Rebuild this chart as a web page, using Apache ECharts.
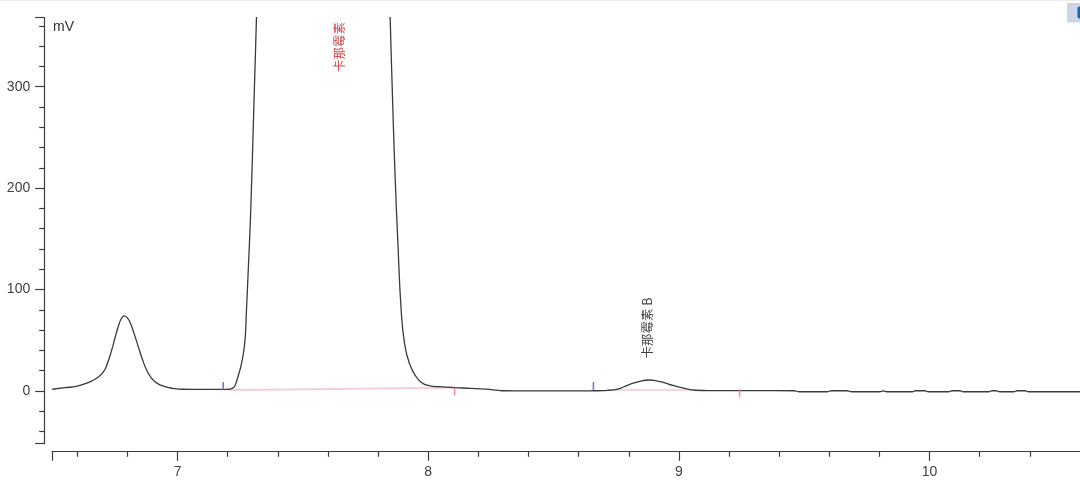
<!DOCTYPE html>
<html>
<head>
<meta charset="utf-8">
<script src="https://cdn.jsdelivr.net/npm/echarts@6/dist/echarts.min.js"></script>
<style>
html,body{margin:0;padding:0;background:#fff;}
#chart{width:1080px;height:481px;}
</style>
</head>
<body>
<div id="chart"></div>
<script>
// ---- data ----
const signal = [
  [6.50,1.7],[6.55,3.2],[6.60,4.8],[6.65,9.0],[6.68,13],[6.705,19],[6.72,27],[6.737,40],
  [6.75,52],[6.763,63],[6.775,71],[6.787,74],[6.798,72.5],[6.81,68],[6.826,57],[6.843,44],
  [6.86,31],[6.876,21],[6.895,13],[6.916,8],[6.95,4.2],[6.982,2.6],[7.02,1.7],[7.10,1.5],
  [7.18,1.5],[7.208,1.7],[7.219,2.8],[7.228,4.6],[7.241,14],[7.255,27],[7.268,47],
  [7.275,80],[7.281,113],[7.292,178],[7.304,277],[7.315,369],[7.33,500],[7.40,1100],
  [7.55,1500],[7.70,1300],[7.80,750],[7.83,520],[7.848,369],[7.859,277],[7.868,211],
  [7.879,146],[7.892,80],[7.9055,47],[7.925,27],[7.952,14],[7.975,8],[7.992,5.9],
  [8.02,4.6],[8.058,4.0],[8.105,3.3],[8.17,2.6],[8.23,1.8],[8.28,0.6],
  [8.30,0.2],[8.40,0],[8.50,0],[8.60,0],[8.70,0.4],[8.718,0.7],[8.752,1.6],[8.80,6.1],
  [8.84,9.2],[8.882,10.8],[8.91,10.0],[8.937,8.5],[8.98,5.2],[9.019,2.8],[9.067,0.7],
  [9.12,0.3],[9.24,0.3],[9.30,0.3],[9.46,0.2],[9.48,-0.8],[9.59,-0.8],[9.61,0.2],
  [9.67,0.2],[9.69,-0.8],[9.80,-0.8],[9.815,0],[9.83,-0.8],[9.93,-0.8],[9.945,0.2],
  [9.98,0.2],[9.995,-0.8],[10.075,-0.8],[10.09,0.2],[10.12,0.2],[10.135,-0.8],
  [10.235,-0.8],[10.25,0.2],[10.265,0.2],[10.28,-0.8],[10.335,-0.8],[10.35,0.2],
  [10.38,0.2],[10.395,-0.8],[10.60,-0.8]
];
const baseline1 = [[7.208,0.8],[8.105,3.3]];
const baseline2 = [[8.718,0.9],[9.067,0.9]];
const peakStarts = [[7.182,1],[8.659,1]];
const peakEnds = [[8.105,3.3],[9.242,1.7]];
const peakNames = ['卡那霉素','卡那霉素 B'];
const peakLabelPos = [[7.646,339],[8.875,62]];
const xRange = [6.5,10.6];
const yRange = [-52,368];
const xTickLabels = [7,8,9,10];
const xMajorTicks = [6.5,7,8,9,10];
const xMinorTicks = [6.6,6.8,7.2,7.4,7.6,7.8,8.2,8.4,8.6,8.8,9.2,9.4,9.6,9.8,10.2,10.4];
const yTickLabels = [0,100,200,300];
const yMajorTicks = [-52,0,100,200,300,368];
const yMinorTicks = [-40,-20,20,40,60,80,120,140,160,180,220,240,260,280,320,340,360];
const yUnit = 'mV';

// ---- chart ----
const chart = echarts.init(document.getElementById('chart'), null, {renderer:'canvas'});
const axisColor = '#3c3c3c';
const labelFont = {color:'#404040', fontSize:14, fontFamily:'Liberation Sans, Arial, sans-serif'};
const G = {left:52.2, top:17.7, width:1029.2, height:426};

function xAxisBase(){
  return {type:'value', min:xRange[0], max:xRange[1], position:'bottom', offset:7.6,
    splitLine:{show:false}};
}
function yAxisBase(){
  return {type:'value', min:yRange[0], max:yRange[1], position:'left', offset:8,
    splitLine:{show:false}};
}

chart.setOption({
  animation:false,
  backgroundColor:'#ffffff',
  grid:G,
  xAxis:[
    Object.assign(xAxisBase(),{
      axisLine:{show:true, onZero:false, lineStyle:{color:axisColor, width:1.2}},
      axisTick:{show:true, customValues:xMajorTicks, length:9.5, lineStyle:{color:axisColor, width:1.2}},
      axisLabel:Object.assign({show:true, customValues:xTickLabels, margin:14}, labelFont)
    }),
    Object.assign(xAxisBase(),{
      axisLine:{show:false, onZero:false},
      axisTick:{show:true, customValues:xMinorTicks, length:5.5, lineStyle:{color:axisColor, width:1.2}},
      axisLabel:{show:false}
    })
  ],
  yAxis:[
    Object.assign(yAxisBase(),{
      axisLine:{show:true, onZero:false, lineStyle:{color:axisColor, width:1.2}},
      axisTick:{show:true, customValues:yMajorTicks, length:9, lineStyle:{color:axisColor, width:1.2}},
      axisLabel:Object.assign({show:true, customValues:yTickLabels, margin:14}, labelFont)
    }),
    Object.assign(yAxisBase(),{
      axisLine:{show:false, onZero:false},
      axisTick:{show:true, customValues:yMinorTicks, length:5, lineStyle:{color:axisColor, width:1.2}},
      axisLabel:{show:false}
    })
  ],
  graphic:[
    {type:'rect', shape:{x:0,y:0,width:1080,height:1}, style:{fill:'#ececec'}, silent:true},
    {type:'text', left:53, top:20, style:{text:yUnit, fill:'#303030', fontSize:14, fontFamily:'Liberation Sans, Arial, sans-serif'}},
    {type:'rect', shape:{x:1067,y:3,width:13,height:19.5}, style:{fill:'#cbd6e8'}, silent:true},
    {type:'rect', shape:{x:1077.5,y:6.5,width:4,height:12, r:[2,0,0,2]}, style:{fill:'#1f5fb0'}, silent:true}
  ],
  series:[
    {type:'line', data:baseline1, symbol:'none',
      lineStyle:{color:'#f6c9d3', width:1.6}, silent:true, z:1},
    {type:'line', data:baseline2, symbol:'none',
      lineStyle:{color:'#f6c9d3', width:1.6}, silent:true, z:1},
    {type:'line', data:signal, symbol:'none',
      smooth:0.5, clip:true,
      lineStyle:{color:'#3a3a3a', width:1.3}, z:3},
    {type:'scatter', data:peakStarts, symbol:'rect', symbolSize:[1.6,8], symbolOffset:[0,-4],
      itemStyle:{color:'#5656b8'}, z:4},
    {type:'scatter', data:peakEnds, symbol:'rect', symbolSize:[1.6,8], symbolOffset:[0,4],
      itemStyle:{color:'#f07482'}, z:4},
    {type:'scatter', symbol:'circle', symbolSize:1,
      itemStyle:{color:'rgba(0,0,0,0)'}, z:5,
      data:[
        {value:peakLabelPos[0], name:peakNames[0], label:{color:'#c41a1a'}},
        {value:peakLabelPos[1], name:peakNames[1], label:{color:'#111111'}}
      ],
      label:{show:true, position:'inside', rotate:90, formatter:p=>p.name,
        fontSize:12.5, fontFamily:'Noto Sans CJK SC, sans-serif', align:'center', verticalAlign:'middle'}
    }
  ]
});
</script>
</body>
</html>
